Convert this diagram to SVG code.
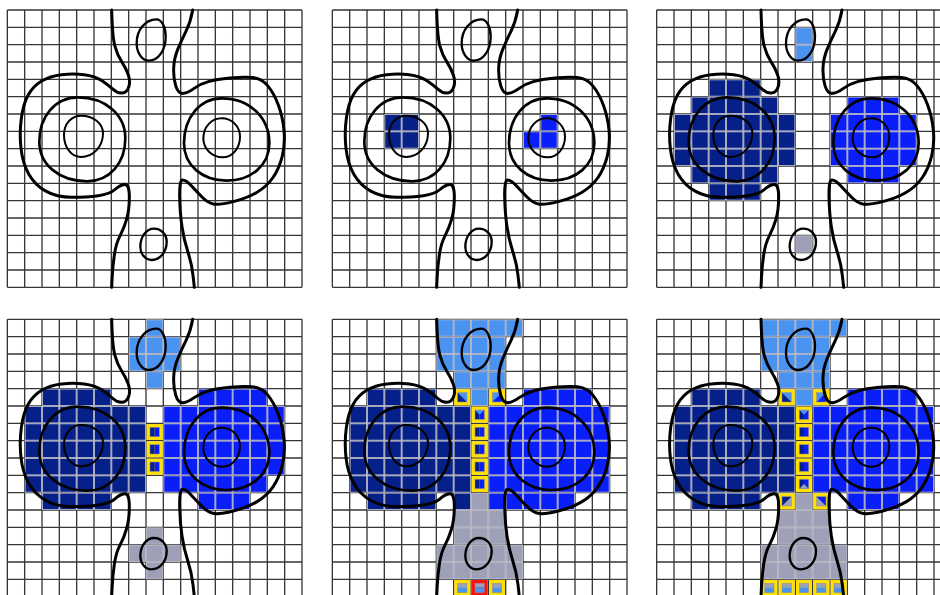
<svg xmlns="http://www.w3.org/2000/svg" xmlns:xlink="http://www.w3.org/1999/xlink" width="940" height="595" viewBox="0 0 940 595">
<style>
.d{fill:#06208a}.b{fill:#0a1efa}.l{fill:#4b93f0}.g{fill:#9ea0b8}
.o{fill:none;stroke:#8c8c98;stroke-width:1.5}
.grid{fill:none;stroke:#363636;stroke-width:4}
.ct{fill:none;stroke:#000;stroke-linecap:round;stroke-linejoin:round}
</style>
<defs>
<pattern id="pD" patternUnits="userSpaceOnUse" width="52" height="52"><rect x="1.25" y="1.25" width="49.5" height="49.5" fill="#06208a" stroke="#bcbcc6" stroke-width="2.5"/></pattern>
<pattern id="pB" patternUnits="userSpaceOnUse" width="52" height="52"><rect x="1.25" y="1.25" width="49.5" height="49.5" fill="#0a1efa" stroke="#bcbcc6" stroke-width="2.5"/></pattern>
<pattern id="pL" patternUnits="userSpaceOnUse" width="52" height="52"><rect x="1.25" y="1.25" width="49.5" height="49.5" fill="#4b93f0" stroke="#bcbcc6" stroke-width="2.5"/></pattern>
<pattern id="pG" patternUnits="userSpaceOnUse" width="52" height="52"><rect x="1.25" y="1.25" width="49.5" height="49.5" fill="#9ea0b8" stroke="#bcbcc6" stroke-width="2.5"/></pattern>
<rect id="Y" x="2" y="2" width="48" height="48" fill="#ffe000"/>
<rect id="R" x="2" y="2" width="48" height="48" fill="#ff1010"/>
<g id="yV"><use href="#Y"/><rect class="d" x="12" y="12" width="14" height="28"/><rect class="b" x="26" y="12" width="14" height="28"/><rect class="o" x="12" y="12" width="28" height="28"/></g>
<g id="yVt"><use href="#Y"/><rect class="d" x="12" y="12" width="14" height="28"/><rect class="b" x="26" y="12" width="14" height="28"/><polygon class="l" points="12,12 40,12 26,26"/><rect class="o" x="12" y="12" width="28" height="28"/></g>
<g id="yVb"><use href="#Y"/><rect class="d" x="12" y="12" width="14" height="28"/><rect class="b" x="26" y="12" width="14" height="28"/><polygon class="g" points="12,40 40,40 26,26"/><rect class="o" x="12" y="12" width="28" height="28"/></g>
<g id="yLD"><use href="#Y"/><rect class="l" x="12" y="12" width="28" height="28"/><polygon class="d" points="12,12 12,40 40,40"/><rect class="o" x="12" y="12" width="28" height="28"/></g>
<g id="yLB"><use href="#Y"/><rect class="l" x="12" y="12" width="28" height="28"/><polygon class="b" points="40,12 40,40 12,40"/><rect class="o" x="12" y="12" width="28" height="28"/></g>
<g id="yGD"><use href="#Y"/><rect class="g" x="12" y="12" width="28" height="28"/><polygon class="d" points="12,12 40,12 12,40"/><rect class="o" x="12" y="12" width="28" height="28"/></g>
<g id="yGB"><use href="#Y"/><rect class="g" x="12" y="12" width="28" height="28"/><polygon class="b" points="12,12 40,12 40,40"/><rect class="o" x="12" y="12" width="28" height="28"/></g>
<g id="yGL"><use href="#Y"/><rect class="g" x="12" y="12" width="28" height="12"/><rect class="l" x="12" y="24" width="28" height="16"/><rect class="o" x="12" y="12" width="28" height="28"/></g>
<g id="rGL"><use href="#R"/><rect class="g" x="12" y="12" width="28" height="12"/><rect class="l" x="12" y="24" width="28" height="16"/><rect class="o" x="12" y="12" width="28" height="28"/></g>
<path id="grid" class="grid" d="M0,0V832M52,0V832M104,0V832M156,0V832M208,0V832M260,0V832M312,0V832M364,0V832M416,0V832M468,0V832M520,0V832M572,0V832M624,0V832M676,0V832M728,0V832M780,0V832M832,0V832M884,0V832M0,0H884M0,52H884M0,104H884M0,156H884M0,208H884M0,260H884M0,312H884M0,364H884M0,416H884M0,468H884M0,520H884M0,572H884M0,624H884M0,676H884M0,728H884M0,780H884M0,832H884"/>
<g id="ct" class="ct">
<path stroke-width="9" d="M313,0 Q315,80 322.5,107.5 T343,155 T363,195 T364,231.5 T344,249 T316.5,237.5 T283,211.5 T230.5,194 T163,194 T103,213 T63,254 T42,325 T41,415 T64.5,492.5 T115.5,543.5 T193,562 T273,557 T323,538.5 T352,523.5 T366,561 T358,627.5 T338,677.5 T321,735 T314.5,801 T313,832"/>
<path stroke-width="9" d="M556,0 Q550,35 536.5,62.5 T511.5,117.5 T499,175 T505.5,228.5 T528,250 T560.5,235 T603,215 T668,204 T735.5,202.5 T781.5,227.5 T813,285 T830,360 T825,437.5 T797,502.5 T748,547.5 T678,575 T620.5,582.5 T585.5,562.5 T552,527.5 T526,510 T517,560 T524,650 T541.5,725 T557,796 T561,832"/>
<path stroke-width="8" d="M354,385 C354,460 306,514 240,514 C156,514 96,464 96,395 C96,318 145,262 212,262 C294,262 354,314 354,385Z"/>
<path stroke-width="8" d="M786,400 C786,465 732,512 658,512 C584,512 530,465 530,400 C530,322 578,265 643,265 C726,265 786,322 786,400Z"/>
<path stroke-width="6" d="M287,370 C287,410 258,441 221,441 C192,441 170,412 170,375 C170,342 192,317 221,317 C258,317 287,340 287,370Z"/>
<path stroke-width="6" d="M698,380 C698,415 675,442 646,442 C614,442 588,417 588,385 C588,351 612,325 643,325 C674,325 698,349 698,380Z"/>
<path stroke-width="7" d="M475,80 C475,120 453,152 425,152 C404,152 388,129 388,100 C388,60 414,28 447,28 C463,28 475,51 475,80Z"/>
<path stroke-width="7" d="M478,695 C478,726 458,750 433,750 C414,750 399,732 399,710 C399,680 417,656 440,656 C461,656 478,673 478,695Z"/>
</g>
</defs>

<g id="panel1" transform="translate(7.333,10) scale(0.333333)">
<use href="#grid"/>
<use href="#ct"/>
</g>

<g id="panel2" transform="translate(332.333,10) scale(0.333333)">
<use href="#grid"/>
<rect fill="url(#pD)" x="156" y="312" width="104" height="104"/>
<rect fill="url(#pB)" x="624" y="312" width="52" height="52"/>
<rect fill="url(#pB)" x="572" y="364" width="104" height="52"/>
<use href="#ct"/>
</g>

<g id="panel3" transform="translate(656.667,10) scale(0.333333)">
<use href="#grid"/>
<rect fill="url(#pD)" x="156" y="208" width="156" height="52"/>
<rect fill="url(#pD)" x="104" y="260" width="260" height="52"/>
<rect fill="url(#pD)" x="52" y="312" width="364" height="156"/>
<rect fill="url(#pD)" x="104" y="468" width="260" height="52"/>
<rect fill="url(#pD)" x="156" y="520" width="156" height="52"/>
<rect fill="url(#pB)" x="572" y="260" width="156" height="52"/>
<rect fill="url(#pB)" x="520" y="312" width="260" height="156"/>
<rect fill="url(#pB)" x="572" y="468" width="156" height="52"/>
<rect fill="url(#pL)" x="416" y="52" width="52" height="104"/>
<rect fill="url(#pG)" x="416" y="676" width="52" height="52"/>
<use href="#ct"/>
</g>

<g id="panel4" transform="translate(7.333,319.333) scale(0.333333)">
<use href="#grid"/>
<rect fill="url(#pL)" x="416" y="0" width="52" height="52"/>
<rect fill="url(#pL)" x="364" y="52" width="156" height="104"/>
<rect fill="url(#pL)" x="416" y="156" width="52" height="52"/>
<rect fill="url(#pD)" x="104" y="208" width="208" height="52"/>
<rect fill="url(#pD)" x="52" y="260" width="364" height="260"/>
<rect fill="url(#pD)" x="104" y="520" width="208" height="52"/>
<rect fill="url(#pB)" x="572" y="208" width="208" height="52"/>
<rect fill="url(#pB)" x="468" y="260" width="364" height="208"/>
<rect fill="url(#pB)" x="468" y="468" width="312" height="52"/>
<rect fill="url(#pB)" x="572" y="520" width="156" height="52"/>
<use href="#yV" x="416" y="312"/>
<use href="#yV" x="416" y="364"/>
<use href="#yV" x="416" y="416"/>
<rect fill="url(#pG)" x="416" y="624" width="52" height="52"/>
<rect fill="url(#pG)" x="364" y="676" width="156" height="52"/>
<rect fill="url(#pG)" x="416" y="728" width="52" height="52"/>
<use href="#ct"/>
</g>

<g id="panel5" transform="translate(332.333,319.333) scale(0.333333)">
<use href="#grid"/>
<rect fill="url(#pL)" x="312" y="0" width="260" height="52"/>
<rect fill="url(#pL)" x="312" y="52" width="208" height="104"/>
<rect fill="url(#pL)" x="364" y="156" width="156" height="52"/>
<rect fill="url(#pL)" x="416" y="208" width="52" height="52"/>
<use href="#yLD" x="364" y="208"/>
<use href="#yLB" x="468" y="208"/>
<rect fill="url(#pD)" x="104" y="208" width="208" height="52"/>
<rect fill="url(#pD)" x="52" y="260" width="364" height="260"/>
<rect fill="url(#pD)" x="104" y="520" width="208" height="52"/>
<rect fill="url(#pD)" x="364" y="520" width="52" height="52"/>
<rect fill="url(#pB)" x="572" y="208" width="208" height="52"/>
<rect fill="url(#pB)" x="468" y="260" width="364" height="260"/>
<rect fill="url(#pB)" x="468" y="520" width="260" height="52"/>
<use href="#yVt" x="416" y="260"/>
<use href="#yV" x="416" y="312"/>
<use href="#yV" x="416" y="364"/>
<use href="#yV" x="416" y="416"/>
<use href="#yV" x="416" y="468"/>
<rect fill="url(#pG)" x="416" y="520" width="52" height="52"/>
<rect fill="url(#pG)" x="364" y="572" width="156" height="104"/>
<rect fill="url(#pG)" x="312" y="676" width="260" height="104"/>
<use href="#yGL" x="364" y="780"/>
<use href="#rGL" x="416" y="780"/>
<use href="#yGL" x="468" y="780"/>
<use href="#ct"/>
</g>

<g id="panel6" transform="translate(656.667,319.333) scale(0.333333)">
<use href="#grid"/>
<rect fill="url(#pL)" x="312" y="0" width="260" height="52"/>
<rect fill="url(#pL)" x="312" y="52" width="208" height="104"/>
<rect fill="url(#pL)" x="364" y="156" width="156" height="52"/>
<rect fill="url(#pL)" x="416" y="208" width="52" height="52"/>
<use href="#yLD" x="364" y="208"/>
<use href="#yLB" x="468" y="208"/>
<rect fill="url(#pD)" x="104" y="208" width="208" height="52"/>
<rect fill="url(#pD)" x="52" y="260" width="364" height="260"/>
<rect fill="url(#pD)" x="104" y="520" width="208" height="52"/>
<rect fill="url(#pB)" x="572" y="208" width="208" height="52"/>
<rect fill="url(#pB)" x="468" y="260" width="364" height="260"/>
<rect fill="url(#pB)" x="572" y="520" width="156" height="52"/>
<use href="#yVt" x="416" y="260"/>
<use href="#yV" x="416" y="312"/>
<use href="#yV" x="416" y="364"/>
<use href="#yV" x="416" y="416"/>
<use href="#yVb" x="416" y="468"/>
<use href="#yGD" x="364" y="520"/>
<rect fill="url(#pG)" x="416" y="520" width="52" height="52"/>
<use href="#yGB" x="468" y="520"/>
<rect fill="url(#pG)" x="364" y="572" width="156" height="104"/>
<rect fill="url(#pG)" x="312" y="676" width="260" height="104"/>
<use href="#yGL" x="312" y="780"/>
<use href="#yGL" x="364" y="780"/>
<use href="#yGL" x="416" y="780"/>
<use href="#yGL" x="468" y="780"/>
<use href="#yGL" x="520" y="780"/>
<use href="#ct"/>
</g>
</svg>
